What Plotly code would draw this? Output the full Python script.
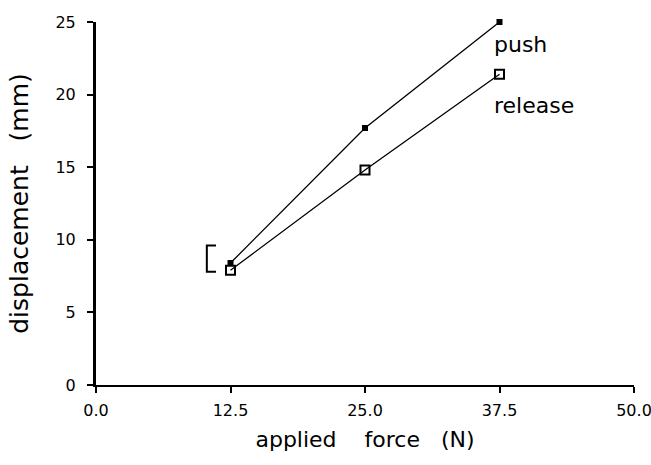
import plotly.graph_objects as go

force = [12.5, 25.0, 37.5]
push = [8.4, 17.7, 25.0]
release = [7.9, 14.8, 21.4]
bracket_range = [7.8, 9.6]
bracket_x = [11.15, 10.3]
x_ticks = [0.0, 12.5, 25.0, 37.5, 50.0]
x_tick_labels = ["0.0", "12.5", "25.0", "37.5", "50.0"]
y_ticks = [0, 5, 10, 15, 20, 25]

FONT = "DejaVu Sans, Verdana, sans-serif"

fig = go.Figure()
fig.add_trace(go.Scatter(
    x=force, y=push, mode="lines+markers", cliponaxis=False,
    line=dict(color="black", width=1.3),
    marker=dict(symbol="square", size=6, color="black"),
    showlegend=False))
fig.add_trace(go.Scatter(
    x=force, y=release, mode="lines+markers", cliponaxis=False,
    line=dict(color="black", width=1.3),
    marker=dict(symbol="square-open", size=9, color="black", line=dict(width=2)),
    showlegend=False))
# bracket
fig.add_trace(go.Scatter(
    x=[bracket_x[0], bracket_x[1], bracket_x[1], bracket_x[0]],
    y=[bracket_range[1], bracket_range[1], bracket_range[0], bracket_range[0]],
    mode="lines", line=dict(color="black", width=2), showlegend=False))

fig.add_annotation(x=force[-1], y=push[-1], text="push", showarrow=False,
                   xanchor="left", yanchor="middle", xshift=-8, yshift=-22,
                   font=dict(family=FONT, size=22, color="black"))
fig.add_annotation(x=force[-1], y=release[-1], text="release", showarrow=False,
                   xanchor="left", yanchor="middle", xshift=-8, yshift=-31,
                   font=dict(family=FONT, size=22, color="black"))

axis_common = dict(showgrid=False, zeroline=False, showline=True, linecolor="black",
                   ticklen=6, tickwidth=2, tickcolor="black", automargin=False)

fig.update_layout(
    width=651, height=465,
    margin=dict(l=96, r=17, t=22, b=80),
    paper_bgcolor="white", plot_bgcolor="white",
    font=dict(family=FONT, color="black"),
    xaxis=dict(range=[0, 50], tickvals=x_ticks, ticktext=x_tick_labels,
               linewidth=2, ticks="outside", ticklabelstandoff=4,
               ticklabeloverflow="allow",
               tickfont=dict(size=16, family=FONT),
               title=dict(text="applied\u00a0\u00a0\u00a0\u00a0force\u00a0\u00a0\u00a0(N)",
                          font=dict(size=22, family=FONT), standoff=12),
               **axis_common),
    yaxis=dict(range=[0, 25], tickvals=y_ticks,
               linewidth=3, ticks="outside", ticklabelstandoff=8,
               ticklabeloverflow="allow",
               tickfont=dict(size=16, family=FONT),
               title=dict(text="displacement\u00a0\u00a0\u00a0(mm)",
                          font=dict(size=25, family=FONT), standoff=20),
               **axis_common),
    xaxis2=dict(range=[0, 50], tickvals=x_ticks, overlaying="x", side="bottom",
                anchor="y", showticklabels=False, ticks="inside", linewidth=2,
                **axis_common),
    yaxis2=dict(range=[0, 25], tickvals=y_ticks, overlaying="y", side="left",
                anchor="x", showticklabels=False, ticks="inside", linewidth=3,
                **axis_common),
)

fig.write_html("out.html")
